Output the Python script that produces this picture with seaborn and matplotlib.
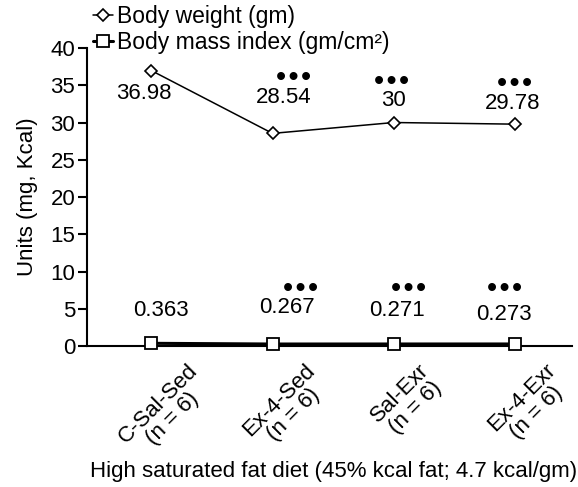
import matplotlib
matplotlib.use("Agg")
import matplotlib.pyplot as plt
from matplotlib.transforms import ScaledTranslation
import seaborn as sns
import pandas as pd

# data
groups = ["C-Sal-Sed\n(n = 6)", "Ex-4-Sed\n(n = 6)", "Sal-Exr\n(n = 6)", "Ex-4-Exr\n(n = 6)"]
body_weight = [36.98, 28.54, 30.0, 29.78]
bmi = [0.363, 0.267, 0.271, 0.273]
bw_labels = ["36.98", "28.54", "30", "29.78"]
bmi_labels = ["0.363", "0.267", "0.271", "0.273"]
bw_sig = [False, True, True, True]
bmi_sig = [False, True, True, True]

df = pd.DataFrame({"group": groups, "bw": body_weight, "bmi": bmi})

sns.set_theme(style="ticks")
plt.rcParams["font.family"] = ["Liberation Sans", "DejaVu Sans"]
plt.rcParams.update({"text.color": "black", "axes.labelcolor": "black",
                     "xtick.color": "black", "ytick.color": "black"})

fig = plt.figure(figsize=(5.78, 4.87), dpi=100)
ax = fig.add_axes([0.1505, 0.2895, 0.8391, 0.6119])

sns.lineplot(data=df, x="group", y="bmi", ax=ax, sort=False, color="black",
             lw=2.2, marker="s", markersize=8, markerfacecolor="white",
             markeredgecolor="black", markeredgewidth=1.3, clip_on=False, zorder=5,
             label="Body mass index (gm/cm²)")
sns.lineplot(data=df, x="group", y="bw", ax=ax, sort=False, color="black",
             lw=1.1, marker="D", markersize=6.5, markerfacecolor="white",
             markeredgecolor="black", markeredgewidth=1.2, clip_on=False, zorder=5,
             label="Body weight (gm)")

ax.set_xlim(-0.53, 3.47)
ax.set_ylim(0, 40)
ax.set_yticks(range(0, 41, 5))
sns.despine(ax=ax)
for s in ["left", "bottom"]:
    ax.spines[s].set_linewidth(1.5)
    ax.spines[s].set_color("black")

ax.tick_params(axis="y", length=6.5, width=1.5, pad=2, labelsize=16)
ax.tick_params(axis="x", length=0, pad=10, labelsize=16)
ax.set_xticks(range(4))
ax.set_xticklabels(groups, rotation=45, ha="center", va="top",
                   multialignment="center", linespacing=1.0)
for lab in ax.get_xticklabels():
    lab.set_transform(lab.get_transform() + ScaledTranslation(0.14, 0, fig.dpi_scale_trans))

ax.set_xlabel("High saturated fat diet (45% kcal fat; 4.7 kcal/gm)", fontsize=16)
ax.set_ylabel("Units (mg, Kcal)", fontsize=16)
ax.xaxis.set_label_coords(0.509, -0.385)
ax.yaxis.set_label_coords(-0.10, 0.5)

# value labels and significance dots
dots = "•\u200a•\u200a•"
bw_pos = [(-0.06, 33.9), (1.09, 33.4), (2.0, 33.0), (2.98, 32.5)]
bw_dot = [None, (1.17, 36.0), (1.98, 35.4), (3.0, 35.2)]
bmi_pos = [(0.08, 4.8), (1.12, 5.2), (2.03, 4.8), (2.91, 4.2)]
bmi_dot = [None, (1.23, 7.7), (2.12, 7.7), (2.91, 7.7)]
for i in range(4):
    ax.text(*bw_pos[i], bw_labels[i], ha="center", va="center", fontsize=16)
    ax.text(*bmi_pos[i], bmi_labels[i], ha="center", va="center", fontsize=16)
    if bw_sig[i]:
        ax.text(*bw_dot[i], dots, ha="center", va="center", fontsize=21)
    if bmi_sig[i]:
        ax.text(*bmi_dot[i], dots, ha="center", va="center", fontsize=21)

handles, labels = ax.get_legend_handles_labels()
ax.get_legend().remove()
fig.legend(handles[::-1], labels[::-1], loc="upper left", bbox_to_anchor=(0.161, 0.99),
           frameon=False, fontsize=16.5, handlelength=0.87, handletextpad=0.18,
           labelspacing=0.15, borderpad=0, borderaxespad=0)

fig.savefig("out.png", dpi=100)
